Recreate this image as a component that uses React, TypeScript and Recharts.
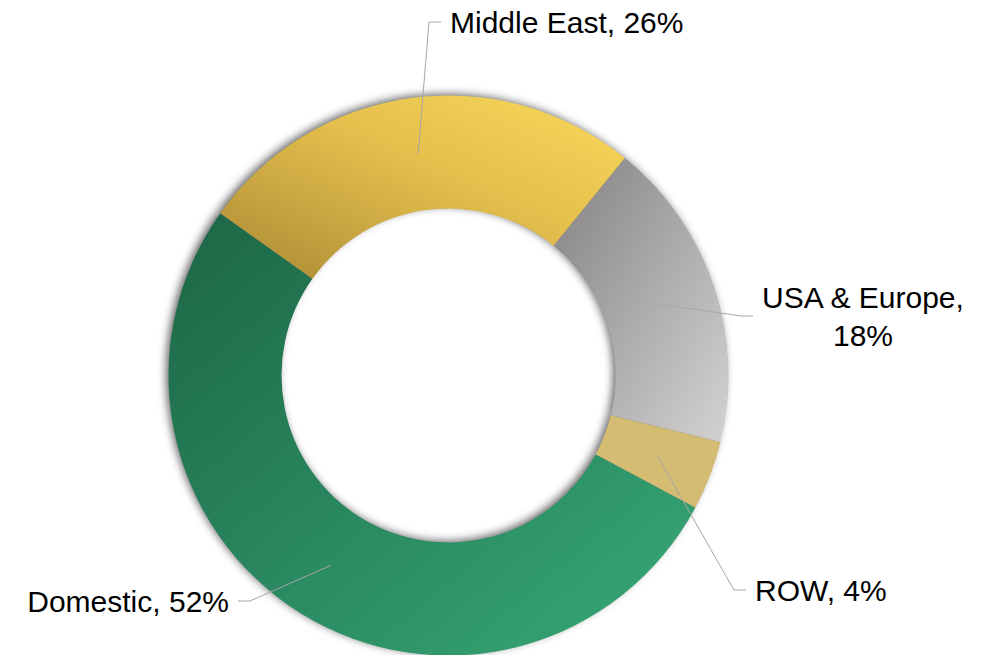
import { Cell, Pie, PieChart } from "recharts"

// shares by region, clockwise from the yellow/gray boundary
const regions = ["USA & Europe", "ROW", "Domestic", "Middle East"]
const shares = [18, 4, 52, 26]

const data = regions.map((name, i) => ({ name, value: shares[i] }))

const fills: Record<string, string> = {
  "USA & Europe": "url(#gUsa)",
  ROW: "#d5bc73",
  Domestic: "url(#gDom)",
  "Middle East": "url(#gMe)",
}

// elbow point of each leader line, relative to the pie centre
const labelLayout: Record<string, { dx: number; dy: number; side: "left" | "right" }> = {
  "Middle East": { dx: -19.5, dy: -353.5, side: "right" },
  "USA & Europe": { dx: 292.5, dy: -59.5, side: "right" },
  ROW: { dx: 285.5, dy: 214.5, side: "right" },
  Domestic: { dx: -198.5, dy: 225.5, side: "left" },
}

const RAD = Math.PI / 180
const FONT = "'Liberation Sans', Arial, sans-serif"

function renderLabel(props: any) {
  const { cx, cy, midAngle, innerRadius, outerRadius, index } = props
  const name = data[index].name
  const pct = data[index].value
  const lay = labelLayout[name]
  const r = (innerRadius + outerRadius) / 2
  const sx = cx + r * Math.cos(-midAngle * RAD)
  const sy = cy + r * Math.sin(-midAngle * RAD)
  const ex = cx + lay.dx
  const ey = cy + lay.dy
  const dir = lay.side === "right" ? 1 : -1
  const tx = ex + dir * 12
  const textX = tx + dir * 9

  const line = (
    <polyline
      points={`${sx},${sy} ${ex},${ey} ${tx},${ey}`}
      fill="none"
      stroke="#a6a6a6"
      strokeWidth={1}
    />
  )

  if (name === "USA & Europe") {
    return (
      <g key={name}>
        {line}
        <text x={textX + 101} y={ey - 8} textAnchor="middle" fontFamily={FONT} fontSize={30} fill="#000">
          <tspan x={textX + 101}>{name},</tspan>
          <tspan x={textX + 101} dy={38}>{pct}%</tspan>
        </text>
      </g>
    )
  }

  return (
    <g key={name}>
      {line}
      <text
        x={textX}
        y={ey + 11}
        textAnchor={dir === 1 ? "start" : "end"}
        fontFamily={FONT}
        fontSize={30}
        fill="#000"
      >
        {`${name}, ${pct}%`}
      </text>
    </g>
  )
}

export default function App() {
  return (
    <div style={{ position: "absolute", left: 0, top: 0, width: 996, height: 655, background: "#fff" }}>
      <PieChart width={996} height={655} margin={{ top: 0, right: 0, bottom: 0, left: 0 }}>
        <defs>
          <linearGradient id="gMe" x1="0" y1="1" x2="1" y2="0">
            <stop offset="0%" stopColor="#a98934" />
            <stop offset="55%" stopColor="#e3be4c" />
            <stop offset="100%" stopColor="#fada5b" />
          </linearGradient>
          <linearGradient id="gDom" x1="0" y1="0" x2="1" y2="1">
            <stop offset="0%" stopColor="#1c6545" />
            <stop offset="100%" stopColor="#37aa79" />
          </linearGradient>
          <linearGradient id="gUsa" x1="0" y1="0" x2="1" y2="1">
            <stop offset="0%" stopColor="#838182" />
            <stop offset="100%" stopColor="#d4d3d2" />
          </linearGradient>
        </defs>
        {/* same slices again underneath, only to cast the shadow */}
        <Pie
          data={data}
          dataKey="value"
          cx={448.5}
          cy={375.5}
          innerRadius={167.5}
          outerRadius={279.5}
          startAngle={51}
          endAngle={-309}
          stroke="none"
          isAnimationActive={false}
        >
          {data.map((d) => (
            <Cell
              key={d.name}
              fill="#777"
              style={{ filter: "drop-shadow(-3px -2px 4px rgba(0,0,0,0.6))" }}
            />
          ))}
        </Pie>
        <Pie
          data={data}
          dataKey="value"
          nameKey="name"
          cx={448.5}
          cy={375.5}
          innerRadius={167}
          outerRadius={280}
          startAngle={51}
          endAngle={-309}
          stroke="none"
          label={renderLabel}
          labelLine={false}
          isAnimationActive={false}
        >
          {data.map((d) => (
            <Cell key={d.name} fill={fills[d.name]} />
          ))}
        </Pie>
      </PieChart>
    </div>
  )
}
